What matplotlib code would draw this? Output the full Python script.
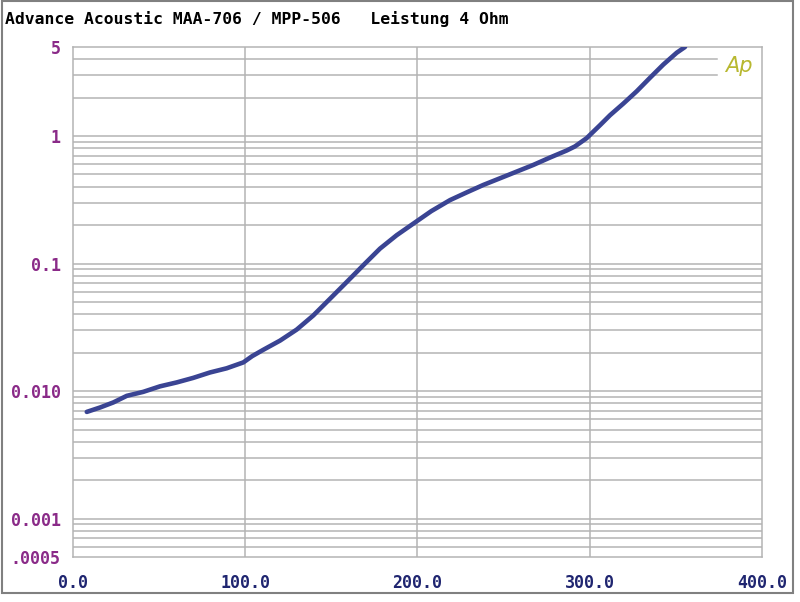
import numpy as np
import matplotlib
matplotlib.use("Agg")
import matplotlib.pyplot as plt
from matplotlib.patches import Rectangle

# output power (W) vs. THD+N (%)
power = [8.0, 15.7, 23.4, 31.2, 40.8, 50.5, 60.2, 69.8, 79.5, 89.2, 98.9,
         104.0, 110.5, 120.2, 129.9, 139.5, 149.2, 158.9, 168.5, 178.2,
         187.9, 197.6, 208.0, 218.9, 228.6, 238.2, 247.9, 257.6, 267.2,
         276.9, 286.6, 291.4, 298.2, 306.0, 311.8, 319.5, 327.3, 335.0,
         342.7, 350.5, 355.3]
thd = [0.00687, 0.00744, 0.00815, 0.00918, 0.00987, 0.0109, 0.0117, 0.0127,
       0.0140, 0.0151, 0.0168, 0.0188, 0.0211, 0.0249, 0.0304, 0.0392, 0.053,
       0.0717, 0.097, 0.131, 0.167, 0.206, 0.258, 0.315, 0.362, 0.414, 0.467,
       0.527, 0.594, 0.679, 0.771, 0.830, 0.964, 1.22, 1.46, 1.80, 2.25,
       2.87, 3.64, 4.51, 5.0]

x_ticks = [0, 100, 200, 300, 400]
x_labels = ["0.0", "100.0", "200.0", "300.0", "400.0"]
y_ticks = [0.0005, 0.001, 0.01, 0.1, 1, 5]
y_labels = [".0005", "0.001", "0.010", "0.1", "1", "5"]

title = "Advance Acoustic MAA-706 / MPP-506   Leistung 4 Ohm"

grid_col = "#b4b4b4"
mono = "DejaVu Sans Mono"

fig = plt.figure(figsize=(8, 6.02), dpi=100)
ax = fig.add_axes([73 / 800, 45 / 602, 689 / 800, 510 / 602])

ax.set_yscale("log")
ax.set_xlim(0, 400)
ax.set_ylim(0.0005, 5)

# grid: verticals
for xv in x_ticks[1:-1]:
    ax.axvline(xv, color=grid_col, lw=1.1, zorder=1)
# grid: horizontals (decade + minor lines), 3 and 4 stop short for the logo
for dec in [0.0001, 0.001, 0.01, 0.1, 1]:
    for m in range(1, 10):
        v = dec * m
        if v <= 0.0005 or v >= 5:
            continue
        xmax = 0.935 if v in (3, 4) else 1.0
        ax.axhline(v, xmin=0, xmax=xmax, color=grid_col, lw=1.1, zorder=1)

ax.plot(power, thd, color="#3a4493", lw=3.3, solid_capstyle="round",
        solid_joinstyle="round", zorder=3)

ax.set_xticks(x_ticks)
ax.set_xticklabels(x_labels, fontfamily=mono, fontsize=12, fontweight="bold",
                   color="#1f2570")
ax.set_yticks(y_ticks)
ax.set_yticklabels(y_labels, fontfamily=mono, fontsize=12, fontweight="bold",
                   color="#8a2a88")
ax.yaxis.set_minor_locator(matplotlib.ticker.NullLocator())
ax.tick_params(axis="both", length=0)
ax.tick_params(axis="y", pad=9)
ax.tick_params(axis="x", pad=12.5)

for s in ax.spines.values():
    s.set_color(grid_col)
    s.set_linewidth(1.1)

ax.text(0.967, 0.962, "Ap", transform=ax.transAxes, fontsize=15,
        color="#b8b830", style="italic", ha="center", va="center",
        family="DejaVu Sans", fontweight="light")

fig.text(5 / 800, 1 - 19 / 602, title, fontfamily=mono, fontsize=11.8,
         fontweight="bold", color="black", ha="left", va="center")

# outer frame
fig.patches.append(Rectangle((2 / 800, 9 / 602), 791 / 800, 592 / 602,
                             transform=fig.transFigure, fill=False,
                             edgecolor="#808080", lw=1.5))

fig.savefig("out.png", dpi=100)
